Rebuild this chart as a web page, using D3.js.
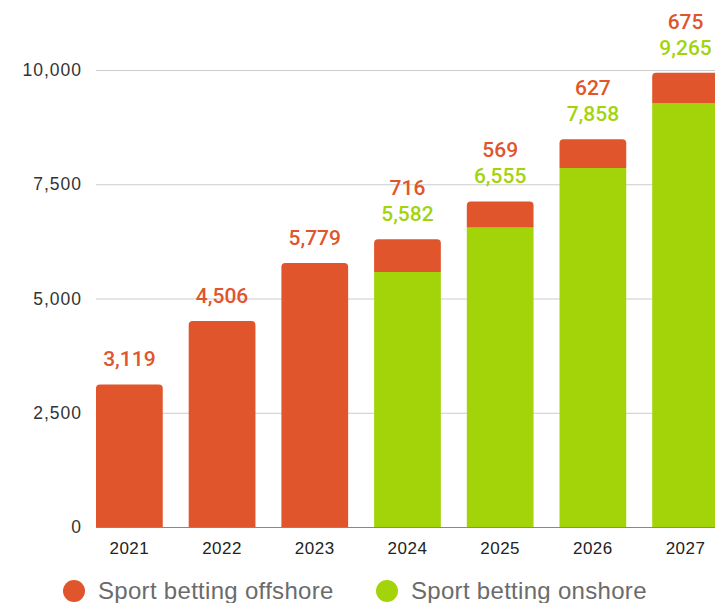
<!DOCTYPE html>
<html>
<head>
<meta charset="utf-8">
<script src="https://cdn.jsdelivr.net/npm/d3@7"></script>
<style>
  body { margin: 0; background: #fff; }
  svg { display: block; font-family: "Liberation Sans", Arial, sans-serif; }
</style>
</head>
<body>
<div id="chart-area"></div>
<script>
var years = ["2021", "2022", "2023", "2024", "2025", "2026", "2027"];
var offshore = [3119, 4506, 5779, 716, 569, 627, 675];
var onshore = [0, 0, 0, 5582, 6555, 7858, 9265];
var yTicks = [0, 2500, 5000, 7500, 10000];
var seriesNames = ["Sport betting offshore", "Sport betting onshore"];

var red = "#e0552c", green = "#a3d40a";

var W = 715, H = 603;
var plotLeft = 96, baseline = 527, plotTop = 70;

var svg = d3.select("#chart-area")
  .append("svg")
    .attr("width", W)
    .attr("height", H);

var x = d3.scaleBand()
  .domain(years)
  .range([plotLeft, plotLeft + 92.7 * 7 - 0.28 * 92.7])
  .paddingInner(0.28)
  .paddingOuter(0);

var y = d3.scaleLinear()
  .domain([0, 10000])
  .range([baseline, plotTop]);

// grid lines
svg.append("g")
  .selectAll("line")
  .data(yTicks.filter(function(d) { return d > 0; }))
  .enter().append("line")
    .attr("x1", plotLeft)
    .attr("x2", W)
    .attr("y1", function(d) { return y(d) + 0.5; })
    .attr("y2", function(d) { return y(d) + 0.5; })
    .attr("stroke", "#cccccc")
    .attr("stroke-width", 1);

// y labels
svg.append("g")
  .selectAll("text")
  .data(yTicks)
  .enter().append("text")
    .attr("x", 82)
    .attr("y", function(d) { return y(d); })
    .attr("dy", "0.35em")
    .attr("text-anchor", "end")
    .attr("font-size", "17.5px")
    .attr("letter-spacing", "1px")
    .attr("fill", "#333")
    .text(function(d) { return d3.format(",")(d); });

// bars
var data = years.map(function(yr, i) {
  return { year: yr, off: offshore[i], on: onshore[i] };
});

var r = 4;
function roundTop(x0, y0, w, h) {
  return "M" + x0 + "," + (y0 + h) +
    "V" + (y0 + r) +
    "Q" + x0 + "," + y0 + " " + (x0 + r) + "," + y0 +
    "H" + (x0 + w - r) +
    "Q" + (x0 + w) + "," + y0 + " " + (x0 + w) + "," + (y0 + r) +
    "V" + (y0 + h) + "Z";
}

var bars = svg.append("g");

bars.selectAll("rect.on")
  .data(data.filter(function(d) { return d.on > 0; }))
  .enter().append("rect")
    .attr("class", "on")
    .attr("x", function(d) { return x(d.year); })
    .attr("width", x.bandwidth())
    .attr("y", function(d) { return y(d.on); })
    .attr("height", function(d) { return baseline - y(d.on); })
    .attr("fill", green);

bars.selectAll("path.off")
  .data(data)
  .enter().append("path")
    .attr("class", "off")
    .attr("d", function(d) {
      var yTop = y(d.on + d.off), yBot = y(d.on);
      return roundTop(x(d.year), yTop, x.bandwidth(), yBot - yTop);
    })
    .attr("fill", red);

// x axis line
svg.append("line")
  .attr("x1", plotLeft)
  .attr("x2", W)
  .attr("y1", baseline + 0.5)
  .attr("y2", baseline + 0.5)
  .attr("stroke", "#888")
  .attr("stroke-width", 1);

// x labels
svg.append("g")
  .selectAll("text")
  .data(years)
  .enter().append("text")
    .attr("x", function(d) { return x(d) + x.bandwidth() / 2; })
    .attr("y", 548)
    .attr("dy", "0.35em")
    .attr("text-anchor", "middle")
    .attr("font-size", "17px")
    .attr("letter-spacing", "0.5px")
    .attr("fill", "#222")
    .text(function(d) { return d; });

// value labels
var labels = svg.append("g")
  .attr("font-family", "Roboto, 'Liberation Sans', sans-serif")
  .attr("font-weight", 500)
  .attr("font-size", "21px")
  .attr("text-anchor", "middle");

data.forEach(function(d) {
  var cx = x(d.year) + x.bandwidth() / 2;
  var yb = y(d.on + d.off) - 18;
  if (d.on > 0) {
    labels.append("text")
      .attr("x", cx).attr("y", yb)
      .attr("fill", green)
      .text(d3.format(",")(d.on));
    yb -= 26;
  }
  labels.append("text")
    .attr("x", cx).attr("y", yb)
    .attr("fill", red)
    .text(d3.format(",")(d.off));
});

// legend
var legend = svg.append("g");
var legendX = [74, 387];
[red, green].forEach(function(c, i) {
  legend.append("circle")
    .attr("cx", legendX[i])
    .attr("cy", 591)
    .attr("r", 11)
    .attr("fill", c);
  legend.append("text")
    .attr("x", legendX[i] + 24)
    .attr("y", 591)
    .attr("dy", "0.35em")
    .attr("font-size", "24px")
    .attr("letter-spacing", "0.3px")
    .attr("fill", "#6b6b6b")
    .text(seriesNames[i]);
});
</script>
</body>
</html>
